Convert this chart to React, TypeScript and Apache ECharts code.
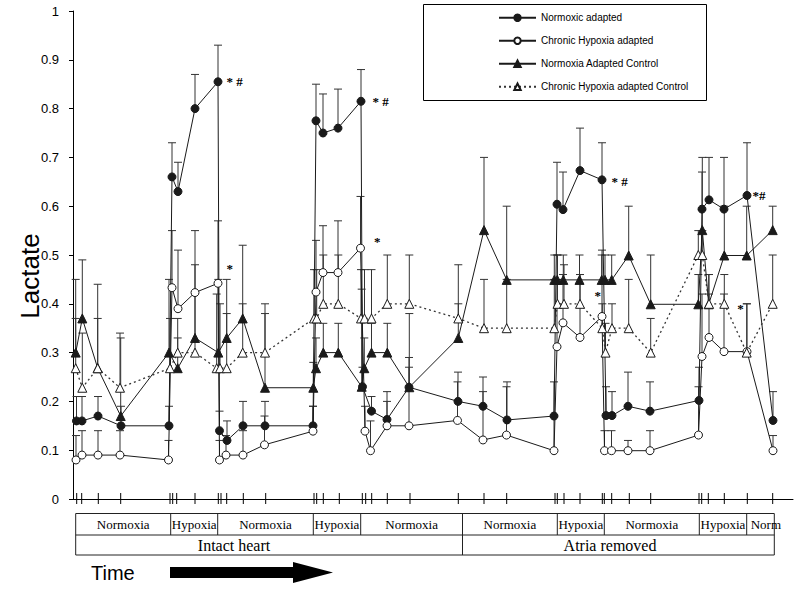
import React, { useEffect, useRef } from "react";
import * as echarts from "echarts";

// ---------- data ----------
const SERIES_NAMES = [
  "Normoxic adapted",
  "Chronic Hypoxia adapted",
  "Normoxia Adapted Control",
  "Chronic Hypoxia adapted Control",
];

// time positions of the sampling ticks on the x axis (arbitrary time units)
const TICK_TIMES = [3.7, 8.7, 25.3, 47.7, 97, 99.7, 103.7, 122, 145.3, 148, 153.7, 170.3, 192.7, 241, 243.7, 250.3, 266.3, 289.3, 292.7, 298.7, 314.3, 337, 385.3, 411, 433.7, 482, 484.3, 491, 507, 529.3, 531.3, 538.7, 556.3, 577.7, 626, 628.7, 635.3, 651.3, 674.3, 699.7];

// Normoxic adapted
const NA_T = [3.5, 9, 25, 48, 96, 99, 105, 122, 145, 146.5, 154, 170, 192, 240, 243, 250, 265, 288, 289.5, 298.5, 314, 336, 385, 410, 434, 481, 484, 490, 507, 529, 533, 539, 555, 577, 626, 629, 636, 651, 674, 700];
const NA_V = [0.16, 0.16, 0.17, 0.15, 0.15, 0.66, 0.63, 0.80, 0.855, 0.14, 0.12, 0.15, 0.15, 0.15, 0.775, 0.75, 0.76, 0.815, 0.23, 0.18, 0.163, 0.229, 0.20, 0.19, 0.162, 0.17, 0.604, 0.593, 0.673, 0.654, 0.171, 0.171, 0.19, 0.18, 0.202, 0.594, 0.613, 0.594, 0.622, 0.161];
const NA_E = [0.21, 0.21, 0.21, 0.19, 0.19, 0.73, 0.69, 0.87, 0.93, 0.18, 0.16, 0.20, 0.20, 0.19, 0.85, 0.83, 0.84, 0.88, 0.27, 0.21, 0.22, 0.27, 0.26, 0.25, 0.24, 0.24, 0.69, 0.67, 0.76, 0.73, 0.23, 0.22, 0.26, 0.24, 0.27, 0.67, 0.70, 0.70, 0.73, 0.22];

// Chronic Hypoxia adapted
const CH_T = [3, 9, 25, 47, 95.5, 99, 105, 122, 145, 146.5, 153, 170, 191.5, 240, 243, 250, 265, 287.5, 292, 297.5, 314, 336, 384.5, 410, 433.5, 481, 484, 490, 507, 529, 531.5, 538.5, 555, 577, 625.5, 629, 636, 651, 674, 700];
const CH_V = [0.08, 0.09, 0.09, 0.09, 0.08, 0.433, 0.39, 0.423, 0.442, 0.08, 0.09, 0.09, 0.111, 0.139, 0.424, 0.464, 0.464, 0.514, 0.139, 0.099, 0.15, 0.15, 0.161, 0.121, 0.131, 0.099, 0.312, 0.361, 0.331, 0.374, 0.099, 0.099, 0.099, 0.099, 0.131, 0.292, 0.331, 0.302, 0.302, 0.099];
const CH_E = [0.13, 0.14, 0.14, 0.14, 0.12, 0.55, 0.51, 0.55, 0.57, 0.12, 0.13, 0.14, 0.17, 0.19, 0.53, 0.56, 0.57, 0.62, 0.19, 0.16, 0.20, 0.29, 0.24, 0.22, 0.23, 0.17, 0.45, 0.46, 0.46, 0.51, 0.14, 0.14, 0.12, 0.14, 0.23, 0.42, 0.42, 0.42, 0.40, 0.13];

// Normoxia Adapted Control
const NC_T = [2.7, 9.3, 24.7, 47.7, 96, 104.7, 122, 145.3, 153.7, 169.7, 192, 240.3, 243, 250.3, 265.3, 288.7, 291.3, 298.5, 314.3, 336.3, 385.3, 411, 433.7, 481.3, 484.3, 490.3, 506.5, 528.7, 532, 538.7, 555.7, 577.7, 625.3, 629.3, 635.7, 651.3, 673.7, 699.7];
const NC_V = [0.30, 0.37, 0.268, 0.17, 0.30, 0.268, 0.33, 0.30, 0.33, 0.37, 0.228, 0.228, 0.268, 0.30, 0.30, 0.23, 0.268, 0.30, 0.30, 0.229, 0.33, 0.551, 0.449, 0.449, 0.449, 0.449, 0.449, 0.449, 0.449, 0.449, 0.499, 0.399, 0.399, 0.551, 0.399, 0.499, 0.499, 0.551];
const NC_E = [0.45, 0.49, 0.44, 0.33, 0.45, 0.33, 0.48, 0.45, 0.45, 0.52, 0.38, 0.28, 0.33, 0.36, 0.36, 0.43, 0.33, 0.36, 0.36, 0.38, 0.40, 0.70, 0.60, 0.50, 0.50, 0.50, 0.50, 0.50, 0.50, 0.50, 0.60, 0.50, 0.46, 0.70, 0.46, 0.60, 0.60, 0.60];

// Chronic Hypoxia adapted Control
const CC_T = [2.7, 9.3, 24.7, 47, 97, 104.7, 122, 143.7, 147, 153.7, 169.7, 192, 241, 243.7, 250.3, 265.3, 288, 291.5, 298.5, 314.3, 336.3, 385.3, 411, 433.7, 481.3, 484.5, 491, 507, 529.3, 532.5, 539, 555.7, 577.7, 625.3, 629.3, 636, 651.3, 673.7, 699.7];
const CC_V = [0.268, 0.228, 0.268, 0.228, 0.268, 0.30, 0.30, 0.268, 0.268, 0.268, 0.30, 0.30, 0.37, 0.37, 0.40, 0.40, 0.37, 0.37, 0.37, 0.40, 0.40, 0.37, 0.35, 0.35, 0.35, 0.40, 0.40, 0.40, 0.35, 0.30, 0.35, 0.35, 0.30, 0.50, 0.50, 0.40, 0.40, 0.30, 0.40];
const CC_E = [0.37, 0.34, 0.37, 0.34, 0.37, 0.37, 0.42, 0.42, 0.40, 0.38, 0.40, 0.40, 0.47, 0.47, 0.50, 0.50, 0.47, 0.47, 0.47, 0.50, 0.50, 0.48, 0.45, 0.45, 0.45, 0.50, 0.48, 0.46, 0.40, 0.36, 0.40, 0.45, 0.37, 0.55, 0.55, 0.46, 0.46, 0.40, 0.50];

// significance marks: text, series index, point index
const ANNOT_TEXT = ["* #", "*", "* #", "*", "* #", "*", "*#", "*"];
const ANNOT_SERIES = [0, 1, 0, 1, 0, 1, 0, 3];
const ANNOT_POINT = [8, 8, 17, 17, 29, 29, 38, 36];

// phase table
const PHASE_LABELS = ["Normoxia", "Hypoxia", "Normoxia", "Hypoxia", "Normoxia", "Normoxia", "Hypoxia", "Normoxia", "Hypoxia", "Norm"];
const PREP_LABELS = ["Intact heart", "Atria removed"];

// ---------- styles / layout ----------
const ANNOT_OFFSET: [number, number][] = [[4, 0], [4, -15], [7, 0], [9, -7], [5, 2], [-12, -21], [1, 0], [8, 5]];
const PHASE_EDGES = [75.7, 170.7, 217.7, 313.3, 360.7, 462.5, 557.3, 604.3, 699.3, 746.7, 774.3];
const PREP_EDGES = [75.7, 462.5, 774.3];
const PREP_CENTERS = [234, 610];

const SANS = "'Liberation Sans', Arial, sans-serif";
const SERIF = "'Liberation Serif', 'Times New Roman', serif";
const INK = "#1a1a1a";

export default function App() {
  const ref = useRef<HTMLDivElement>(null);

  useEffect(() => {
    if (!ref.current) return;
    const chart = echarts.init(ref.current, undefined, { renderer: "svg" });

    const ts = [NA_T, CH_T, NC_T, CC_T];
    const vs = [NA_V, CH_V, NC_V, CC_V];
    const es = [NA_E, CH_E, NC_E, CC_E];

    const symbols = ["circle", "circle", "triangle", "triangle"];
    const sizes = [8, 8, 9, 9];
    const fills = [INK, "#fff", INK, "#fff"];

    const lineSeries = SERIES_NAMES.map((name, si) => {
      const data = ts[si].map((t, i) => {
        const k = ANNOT_SERIES.findIndex((s, j) => s === si && ANNOT_POINT[j] === i);
        const item: any = { value: [t, vs[si][i]] };
        if (k >= 0) {
          item.label = {
            show: true,
            formatter: ANNOT_TEXT[k],
            position: "right",
            distance: 0,
            offset: ANNOT_OFFSET[k],
            fontFamily: SERIF,
            fontWeight: "bold",
            fontSize: 13,
            color: "#000",
            textBorderWidth: 0,
          };
        }
        return item;
      });
      return {
        type: "line",
        name,
        data,
        symbol: symbols[si],
        symbolSize: sizes[si],
        showAllSymbol: true,
        z: 3,
        lineStyle: {
          color: si === 3 ? "#333" : INK,
          width: si === 3 ? 1.3 : 1,
          type: si === 3 ? [2, 3] : "solid",
        },
        itemStyle: { color: fills[si], borderColor: INK, borderWidth: 1 },
        label: { color: "#000" },
        emphasis: { disabled: true },
      };
    });

    const errData: number[][] = [];
    ts.forEach((arr, si) => arr.forEach((t, i) => errData.push([t, vs[si][i], es[si][i]])));

    const option: any = {
      animation: false,
      grid: { left: 73, right: 7, top: 11, bottom: 93 },
      xAxis: {
        type: "value",
        min: 0,
        max: 720,
        axisLine: { show: true, lineStyle: { color: "#000", width: 1 } },
        axisTick: { show: false },
        axisLabel: { show: false },
        splitLine: { show: false },
      },
      yAxis: {
        type: "value",
        min: 0,
        max: 1,
        interval: 0.1,
        axisLine: { show: true, lineStyle: { color: "#000", width: 1 } },
        axisTick: { show: true, length: 4, lineStyle: { color: "#000" } },
        axisLabel: { color: "#000", fontSize: 13, fontFamily: SANS, margin: 14 },
        splitLine: { show: false },
      },
      legend: {
        data: SERIES_NAMES,
        orient: "vertical",
        left: 493,
        top: 6,
        itemWidth: 37,
        itemHeight: 8,
        itemGap: 9.5,
        textStyle: { fontSize: 10, fontFamily: SANS, color: "#000", lineHeight: 13.5 },
        selectedMode: false,
      },
      series: [
        {
          type: "custom",
          name: "errorbars",
          data: errData,
          z: 1,
          silent: true,
          clip: false,
          renderItem: (_p: any, api: any) => {
            const t = api.value(0);
            const p0 = api.coord([t, api.value(1)]);
            const p1 = api.coord([t, api.value(2)]);
            return {
              type: "group",
              children: [
                { type: "line", shape: { x1: p0[0], y1: p0[1], x2: p1[0], y2: p1[1] }, style: { stroke: "#333", lineWidth: 1 } },
                { type: "line", shape: { x1: p1[0] - 4, y1: p1[1], x2: p1[0] + 4, y2: p1[1] }, style: { stroke: "#333", lineWidth: 1 } },
              ],
            };
          },
        },
        {
          type: "custom",
          name: "ticks",
          data: TICK_TIMES.map((t) => [t, 0]),
          z: 4,
          silent: true,
          clip: false,
          renderItem: (_p: any, api: any) => {
            const c = api.coord([api.value(0), 0]);
            return {
              type: "line",
              shape: { x1: c[0], y1: c[1] - 6, x2: c[0], y2: c[1] + 5 },
              style: { stroke: "#000", lineWidth: 1 },
            };
          },
        },
        ...lineSeries,
      ],
      graphic: [] as any[],
    };

    const g: any[] = option.graphic;
    // legend box
    g.push({ type: "rect", shape: { x: 423.5, y: 4.5, width: 283, height: 96 }, style: { fill: "#fff", stroke: "#000", lineWidth: 1 }, z: 2 });
    // y axis title
    g.push({ type: "text", x: 30, y: 276, rotation: Math.PI / 2, style: { text: "Lactate", fontSize: 26, fontFamily: SANS, fill: "#000", textAlign: "center", textVerticalAlign: "middle" } });
    // phase table
    const r1Top = 513.5, r1Bot = 535, r2Bot = 555;
    g.push({ type: "rect", shape: { x: PHASE_EDGES[0], y: r1Top, width: PHASE_EDGES[PHASE_EDGES.length - 1] - PHASE_EDGES[0], height: r2Bot - r1Top }, style: { fill: "none", stroke: "#222", lineWidth: 1 } });
    g.push({ type: "line", shape: { x1: PHASE_EDGES[0], y1: r1Bot, x2: PHASE_EDGES[PHASE_EDGES.length - 1], y2: r1Bot }, style: { stroke: "#222", lineWidth: 1 } });
    PHASE_EDGES.slice(1, -1).forEach((x) => {
      g.push({ type: "line", shape: { x1: x, y1: r1Top, x2: x, y2: r1Bot }, style: { stroke: "#222", lineWidth: 1 } });
    });
    PREP_EDGES.slice(1, -1).forEach((x) => {
      g.push({ type: "line", shape: { x1: x, y1: r1Bot, x2: x, y2: r2Bot }, style: { stroke: "#222", lineWidth: 1 } });
    });
    PHASE_LABELS.forEach((lab, i) => {
      const last = i === PHASE_LABELS.length - 1;
      const cx = last ? PHASE_EDGES[i] + 4 : (PHASE_EDGES[i] + PHASE_EDGES[i + 1]) / 2;
      g.push({ type: "text", x: cx, y: 524.5, style: { text: lab, fontSize: 13, fontFamily: SERIF, fill: "#000", textAlign: last ? "left" : "center", textVerticalAlign: "middle" } });
    });
    PREP_LABELS.forEach((lab, i) => {
      g.push({ type: "text", x: PREP_CENTERS[i], y: 545.5, style: { text: lab, fontSize: 16, fontFamily: SERIF, fill: "#000", textAlign: "center", textVerticalAlign: "middle" } });
    });
    // Time arrow
    g.push({ type: "text", x: 91, y: 573, style: { text: "Time", fontSize: 20, fontFamily: SANS, fill: "#000", textAlign: "left", textVerticalAlign: "middle" } });
    g.push({ type: "polygon", shape: { points: [[170, 567], [293, 567], [293, 562], [333, 572.5], [293, 583], [293, 578], [170, 578]] }, style: { fill: "#000" } });

    chart.setOption(option);
    return () => chart.dispose();
  }, []);

  return (
    <div
      ref={ref}
      style={{ position: "fixed", left: 0, top: 0, width: 800, height: 592, background: "#fff" }}
    />
  );
}
